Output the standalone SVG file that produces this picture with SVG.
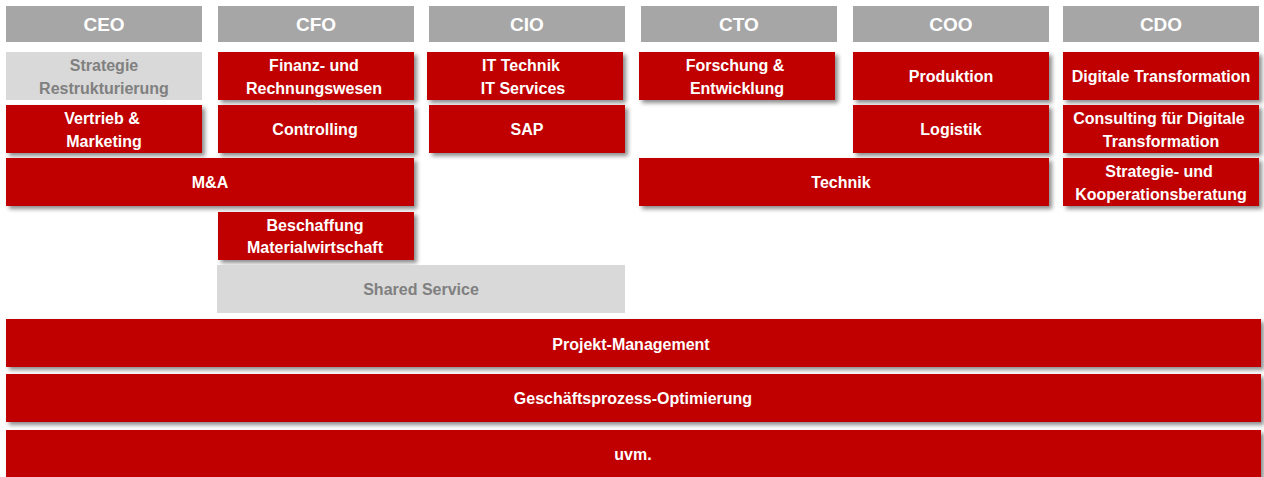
<svg xmlns="http://www.w3.org/2000/svg" width="1264" height="477" viewBox="0 0 1264 477">
<defs>
<filter id="sh" x="-5%" y="-20%" width="115%" height="160%">
<feDropShadow dx="3" dy="3" stdDeviation="2" flood-color="#000" flood-opacity="0.45"/>
</filter>
</defs>
<style>
.hd{fill:#A6A6A6}
.hdt{font-family:"Liberation Sans",Arial,sans-serif;font-weight:bold;font-size:19px;fill:#fff;text-anchor:middle}
.rb{fill:#C00000;filter:url(#sh)}
.gb{fill:#D9D9D9}
.t{font-family:"Liberation Sans",Arial,sans-serif;font-weight:bold;font-size:16px;fill:#fff;text-anchor:middle}
.gt{font-family:"Liberation Sans",Arial,sans-serif;font-weight:bold;font-size:16px;fill:#808080;text-anchor:middle}
</style>
<rect width="1264" height="477" fill="#fff"/>
<g id="headers">
<g id="h-ceo"><rect class="hd" x="6" y="6" width="196" height="36"/><text class="hdt" x="104" y="31">CEO</text></g>
<g id="h-cfo"><rect class="hd" x="218" y="6" width="196" height="36"/><text class="hdt" x="316" y="31">CFO</text></g>
<g id="h-cio"><rect class="hd" x="429" y="6" width="196" height="36"/><text class="hdt" x="527" y="31">CIO</text></g>
<g id="h-cto"><rect class="hd" x="641" y="6" width="196" height="36"/><text class="hdt" x="739" y="31">CTO</text></g>
<g id="h-coo"><rect class="hd" x="853" y="6" width="196" height="36"/><text class="hdt" x="951" y="31">COO</text></g>
<g id="h-cdo"><rect class="hd" x="1063" y="6" width="196" height="36"/><text class="hdt" x="1161" y="31">CDO</text></g>
</g>
<g id="n-strategie"><rect class="gb" x="6" y="52" width="196" height="48"/><text class="gt" x="104" y="71">Strategie</text><text class="gt" x="104" y="94">Restrukturierung</text></g>
<g id="n-vertrieb"><rect class="rb" x="6" y="105" width="196" height="48"/><text class="t" x="102" y="124">Vertrieb &amp;</text><text class="t" x="104" y="147">Marketing</text></g>
<g id="n-ma"><rect class="rb" x="6" y="158" width="408" height="48"/><text class="t" x="210" y="188">M&amp;A</text></g>
<g id="n-finanz"><rect class="rb" x="218" y="52" width="196" height="48"/><text class="t" x="314" y="71">Finanz- und</text><text class="t" x="314" y="94">Rechnungswesen</text></g>
<g id="n-controlling"><rect class="rb" x="218" y="105" width="196" height="48"/><text class="t" x="315" y="135">Controlling</text></g>
<g id="n-beschaffung"><rect class="rb" x="218" y="212" width="196" height="48"/><text class="t" x="315" y="231">Beschaffung</text><text class="t" x="315" y="253">Materialwirtschaft</text></g>
<g id="n-shared"><rect class="gb" x="217" y="265" width="408" height="48"/><text class="gt" x="421" y="295">Shared Service</text></g>
<g id="n-it"><rect class="rb" x="427" y="52" width="196" height="48"/><text class="t" x="521" y="71">IT Technik</text><text class="t" x="523" y="94">IT Services</text></g>
<g id="n-sap"><rect class="rb" x="429" y="105" width="196" height="48"/><text class="t" x="527" y="135">SAP</text></g>
<g id="n-forschung"><rect class="rb" x="639" y="52" width="196" height="48"/><text class="t" x="735" y="71">Forschung &amp;</text><text class="t" x="737" y="94">Entwicklung</text></g>
<g id="n-technik"><rect class="rb" x="639" y="158" width="410" height="48"/><text class="t" x="841" y="188">Technik</text></g>
<g id="n-produktion"><rect class="rb" x="853" y="52" width="196" height="48"/><text class="t" x="951" y="82">Produktion</text></g>
<g id="n-logistik"><rect class="rb" x="853" y="105" width="196" height="48"/><text class="t" x="951" y="135">Logistik</text></g>
<g id="n-digitale"><rect class="rb" x="1063" y="52" width="196" height="48"/><text class="t" x="1161" y="82">Digitale Transformation</text></g>
<g id="n-consulting"><rect class="rb" x="1063" y="105" width="196" height="48"/><text class="t" x="1159" y="124">Consulting für Digitale</text><text class="t" x="1161" y="147">Transformation</text></g>
<g id="n-strategieberatung"><rect class="rb" x="1063" y="158" width="196" height="48"/><text class="t" x="1159" y="177">Strategie- und</text><text class="t" x="1161" y="200">Kooperationsberatung</text></g>
<g id="n-projekt"><rect class="rb" x="6" y="319" width="1255" height="48"/><text class="t" x="631" y="350">Projekt-Management</text></g>
<g id="n-gpo"><rect class="rb" x="6" y="374" width="1255" height="48"/><text class="t" x="633" y="404">Geschäftsprozess-Optimierung</text></g>
<g id="n-uvm"><rect class="rb" x="6" y="430" width="1255" height="48"/><text class="t" x="633" y="460">uvm.</text></g>
<g id="connectors"/>
</svg>
